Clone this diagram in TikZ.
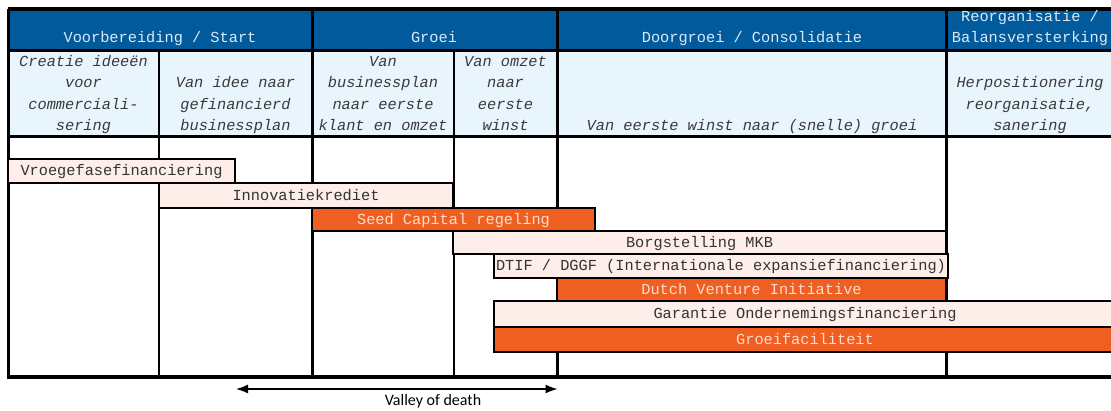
\documentclass[tikz,border=0pt]{standalone}
\usepackage{fontspec}
\setmonofont{Liberation Mono}
\newfontfamily\calib{Carlito}
\usetikzlibrary{arrows.meta}
\definecolor{hdrblue}{HTML}{005A9B}
\definecolor{hdrtext}{HTML}{DCE9F5}
\definecolor{subblue}{HTML}{E9F5FD}
\definecolor{subtext}{HTML}{3A3A3A}
\definecolor{lightbar}{HTML}{FDEEE9}
\definecolor{bartext}{HTML}{333333}
\definecolor{orangec}{HTML}{F05F22}
\definecolor{orangetext}{HTML}{FDDCCB}
\tikzset{
  hdrtxt/.style={font=\ttfamily\fontsize{15.3}{21}\selectfont, text=hdrtext, inner sep=0pt, anchor=base, align=center},
  subtxt/.style={font=\ttfamily\itshape\fontsize{15.3}{21.3}\selectfont, text=subtext, inner sep=0pt, anchor=base, align=center},
  barbox/.style={draw=black, line width=2.6pt, inner sep=0pt, text height=11pt, text depth=2pt, font=\ttfamily\fontsize{15.3}{18}\selectfont, anchor=center},
  lightbarbox/.style={barbox, fill=lightbar, text=bartext},
  orangebarbox/.style={barbox, fill=orangec, text=orangetext},
  thickline/.style={line width=3pt, black},
  thinline/.style={line width=2.4pt, black},
  arrowline/.style={line width=1.3pt, {Latex[length=12pt,width=9pt]}-{Latex[length=12pt,width=9pt]}}
}
\begin{document}
\begin{tikzpicture}[x=1pt,y=-1pt]
\useasboundingbox (0,0) rectangle (1111,410);
% backgrounds
\fill[hdrblue] (8,9) rectangle (1116,50);
\fill[subblue] (8,50) rectangle (1116,136);
% grid lines
\draw[thinline] (159,50) -- (159,377);
\draw[thinline] (454,50) -- (454,377);
\draw[thickline] (312,9) -- (312,377);
\draw[thickline] (557,9) -- (557,377);
\draw[thickline] (946,9) -- (946,377);
\draw[thinline] (8,50.5) -- (1116,50.5);
\draw[thickline] (8,136) -- (1116,136);
\draw[line width=3.2pt] (8,9) -- (1116,9);
\draw[line width=3.2pt] (8,377) -- (1116,377);
\draw[thickline] (8,9) -- (8,378.6);
% header texts
\node[hdrtxt] (h1) at (160,42.5) {Voorbereiding / Start};
\node[hdrtxt] (h2) at (434,42.5) {Groei};
\node[hdrtxt] (h3) at (752,42.5) {Doorgroei / Consolidatie};
\node[hdrtxt] (h4) at (1030,42.5) {Reorganisatie /\\Balansversterking};
% sub header texts
\node[subtxt] (s1) at (83.5,130.5) {Creatie ideeën\\voor\\commerciali-\\sering};
\node[subtxt] (s2) at (235.5,130.5) {Van idee naar\\gefinancierd\\businessplan};
\node[subtxt] (s3) at (383,130.5) {Van\\businessplan\\naar eerste\\klant en omzet};
\node[subtxt] (s4) at (505.5,130.5) {Van omzet\\naar\\eerste\\winst};
\node[subtxt] (s5) at (752,130.5) {Van eerste winst naar (snelle) groei};
\node[subtxt] (s6) at (1030,130.5) {Herpositionering\\reorganisatie,\\sanering};
% bars
\node[lightbarbox, minimum width=227pt, minimum height=24pt] (vroeg) at (121.5,171) {Vroegefasefinanciering};
\node[lightbarbox, minimum width=294pt, minimum height=25pt] (innov) at (306,195.5) {Innovatiekrediet};
\node[orangebarbox, minimum width=283pt, minimum height=23pt] (seed) at (453.5,219.5) {Seed Capital regeling};
\node[lightbarbox, minimum width=493pt, minimum height=23pt] (borg) at (699.5,242.5) {Borgstelling MKB};
\node[lightbarbox, minimum width=454pt, minimum height=24pt] (dtif) at (721,266) {DTIF / DGGF (Internationale expansiefinanciering)};
\node[orangebarbox, minimum width=389pt, minimum height=23pt] (dvi) at (751.5,289.5) {Dutch Venture Initiative};
\node[lightbarbox, minimum width=622pt, minimum height=26pt] (gar) at (805,314) {Garantie Ondernemingsfinanciering};
\node[orangebarbox, minimum width=622pt, minimum height=25pt] (groei) at (805,339.5) {Groeifaciliteit};
% valley of death
\coordinate (va) at (236,389);
\coordinate (vb) at (557.5,389);
\draw[arrowline] (va) -- (vb);
\node[font=\calib\fontsize{16}{18}\selectfont, anchor=base, inner sep=0pt] (vod) at (433,405.5) {Valley of death};
\end{tikzpicture}
\end{document}
